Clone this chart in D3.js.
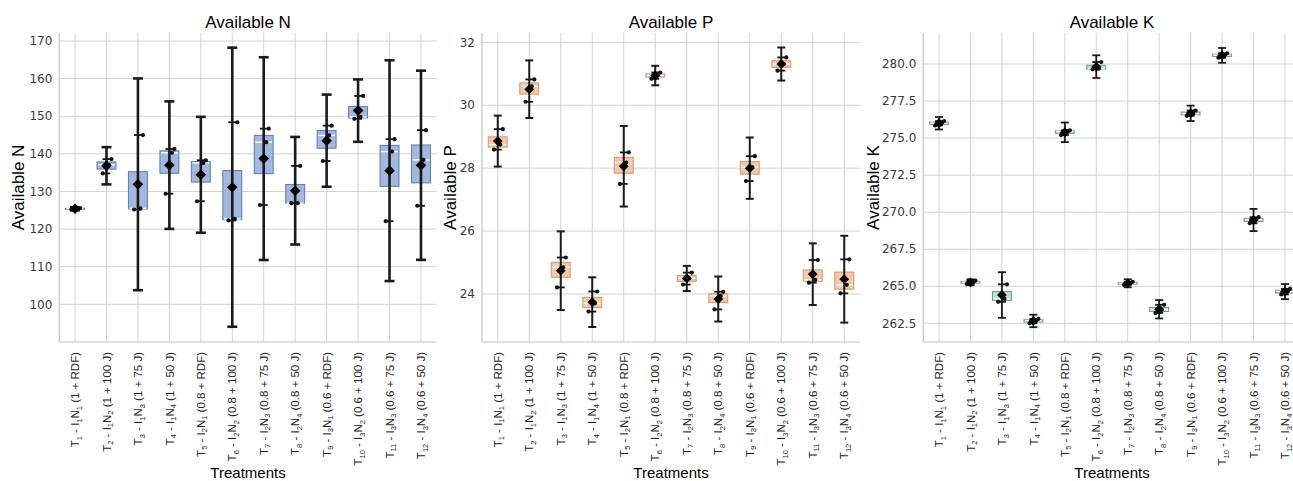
<!DOCTYPE html>
<html>
<head>
<meta charset="utf-8">
<script src="https://cdn.jsdelivr.net/npm/d3@7"></script>
<style>
  body { margin: 0; background: #fff; }
  svg { display: block; }
  text { font-family: "Liberation Sans", Arial, sans-serif; }
</style>
</head>
<body>
<div id="chart"></div>
<script>
// treatment labels, "_n" marks a subscript
const treatments = [
  "T_1 - I_1N_1 (1 + RDF)", "T_2 - I_1N_2 (1 + 100 J)", "T_3 - I_1N_3 (1 + 75 J)", "T_4 - I_1N_4 (1 + 50 J)",
  "T_5 - I_2N_1 (0.8 + RDF)", "T_6 - I_2N_2 (0.8 + 100 J)", "T_7 - I_2N_3 (0.8 + 75 J)", "T_8 - I_2N_4 (0.8 + 50 J)",
  "T_9 - I_3N_1 (0.6 + RDF)", "T_10 - I_3N_2 (0.6 + 100 J)", "T_11 - I_3N_3 (0.6 + 75 J)", "T_12 - I_3N_4 (0.6 + 50 J)"
];

// three replicates per treatment
const nValues = [
  [125.2, 125.4, 125.6], [134.8, 137.1, 138.6], [125.2, 125.5, 145.0], [129.4, 140.3, 141.3],
  [127.4, 137.6, 138.3], [122.3, 122.7, 148.4], [126.4, 143.1, 146.7], [126.9, 126.9, 136.8],
  [138.1, 144.9, 147.5], [149.3, 149.8, 155.4], [122.1, 140.6, 143.9], [126.2, 138.4, 146.3]
];
const nCI = [0.4, 4.95, 28.15, 16.95, 15.4, 37.1, 26.95, 14.3, 12.25, 8.3, 29.35, 25.15];

const pValues = [
  [28.59, 28.75, 29.24], [30.11, 30.60, 30.82], [24.21, 24.85, 25.16], [23.44, 23.70, 24.08],
  [27.50, 28.18, 28.50], [30.84, 30.95, 31.04], [24.30, 24.50, 24.68], [23.51, 23.94, 24.07],
  [27.59, 28.03, 28.38], [31.10, 31.31, 31.52], [24.36, 24.45, 25.08], [24.02, 24.29, 25.10]
];
const pCI = [0.81, 0.915, 1.25, 0.79, 1.28, 0.31, 0.40, 0.715, 0.975, 0.525, 0.98, 1.38];

const kValues = [
  [275.85, 276.00, 276.15], [265.15, 265.28, 265.38], [263.95, 264.15, 265.13], [262.50, 262.68, 262.80],
  [275.20, 275.45, 275.52], [279.64, 279.69, 280.13], [265.10, 265.20, 265.30], [263.20, 263.40, 263.75],
  [276.50, 276.65, 276.86], [280.42, 280.60, 280.72], [269.25, 269.50, 269.66], [264.45, 264.65, 264.82]
];
const kCI = [0.42, 0.2, 1.54, 0.42, 0.66, 0.765, 0.27, 0.62, 0.52, 0.5, 0.75, 0.51];

const nTicks = [100, 110, 120, 130, 140, 150, 160, 170];
const pTicks = [24, 26, 28, 30, 32];
const kTicks = [262.5, 265.0, 267.5, 270.0, 272.5, 275.0, 277.5, 280.0];

const width = 1293, height = 481;
const plotTop = 33, plotBottom = 342;

const svg = d3.select("#chart").append("svg")
  .attr("width", width)
  .attr("height", height);

const panels = [
  { title: "Available N", values: nValues, ci: nCI, ticks: nTicks, fmt: d3.format("d"),
    domain: [89.98, 172.13], left: 59.3, right: 436.7, ylabX: 18,
    fill: "#a3b8dc", edge: "#5f81c0", lw: 2.6, capW: 10, diamond: 56 },
  { title: "Available P", values: pValues, ci: pCI, ticks: pTicks, fmt: d3.format("d"),
    domain: [22.474, 32.296], left: 482, right: 860, ylabX: 450,
    fill: "#f3c9ab", edge: "#d99a72", lw: 2, capW: 8, diamond: 48 },
  { title: "Available K", values: kValues, ci: kCI, ticks: kTicks, fmt: d3.format(".1f"),
    domain: [261.24, 282.09], left: 923.3, right: 1300.7, ylabX: 873,
    fill: "#c4e2cb", edge: "#6aa57a", lw: 1.8, capW: 8, diamond: 48 }
];

panels.forEach(drawPanel);

function drawPanel(p) {
  const x = d3.scalePoint()
    .domain(treatments)
    .range([p.left, p.right])
    .padding(0.5);
  const step = x.step();
  const y = d3.scaleLinear().domain(p.domain).range([plotBottom, plotTop]);
  const g = svg.append("g");

  // grid
  g.selectAll(".hgrid").data(p.ticks).enter().append("line")
    .attr("x1", p.left).attr("x2", p.right)
    .attr("y1", d => y(d)).attr("y2", d => y(d))
    .attr("stroke", "#d3d3d3").attr("stroke-width", 1);
  g.selectAll(".vgrid").data(treatments).enter().append("line")
    .attr("x1", d => x(d)).attr("x2", d => x(d))
    .attr("y1", plotTop).attr("y2", plotBottom)
    .attr("stroke", "#d3d3d3").attr("stroke-width", 1);
  g.append("path")
    .attr("d", `M${p.left},${plotTop}V${plotBottom}H${p.right}`)
    .attr("fill", "none").attr("stroke", "#c4c4c4").attr("stroke-width", 1.2);

  // y tick labels
  g.selectAll(".ytick").data(p.ticks).enter().append("text")
    .attr("x", p.left - 7)
    .attr("y", d => y(d))
    .attr("dy", "0.35em")
    .attr("text-anchor", "end")
    .style("font-family", "'DejaVu Sans', sans-serif")
    .style("font-size", "12px")
    .attr("fill", "#3a3a3a")
    .text(d => p.fmt(d));

  const stats = p.values.map((vals, i) => {
    const s = vals.slice().sort(d3.ascending);
    return {
      key: treatments[i],
      vals: vals,
      min: s[0], max: s[s.length - 1],
      q1: d3.quantile(s, 0.25), med: d3.quantile(s, 0.5), q3: d3.quantile(s, 0.75),
      mean: d3.mean(vals), ci: p.ci[i]
    };
  });

  const boxW = step * 0.6;
  const whiskCap = step * 0.25;

  const item = g.selectAll(".item").data(stats).enter().append("g")
    .attr("transform", d => `translate(${x(d.key)},0)`);

  // boxes
  item.append("rect")
    .attr("x", -boxW / 2).attr("width", boxW)
    .attr("y", d => y(d.q3))
    .attr("height", d => Math.max(1, y(d.q1) - y(d.q3)))
    .attr("fill", p.fill).attr("stroke", p.edge).attr("stroke-width", 1.1);
  item.append("line")
    .attr("x1", -boxW / 2 + 1).attr("x2", boxW / 2 - 1)
    .attr("y1", d => y(d.med)).attr("y2", d => y(d.med))
    .attr("stroke", "#fff").attr("stroke-width", 1.4);

  // box whisker caps at min / max
  item.selectAll(".wcap").data(d => [d.min, d.max]).enter().append("line")
    .attr("x1", -whiskCap / 2).attr("x2", whiskCap / 2)
    .attr("y1", d => y(d)).attr("y2", d => y(d))
    .attr("stroke", "#111").attr("stroke-width", 1.8);

  // error bars of the mean
  item.append("line")
    .attr("x1", 0).attr("x2", 0)
    .attr("y1", d => y(d.mean - d.ci)).attr("y2", d => y(d.mean + d.ci))
    .attr("stroke", "#1a1a1a").attr("stroke-width", p.lw);
  item.selectAll(".ecap").data(d => [d.mean - d.ci, d.mean + d.ci]).enter().append("line")
    .attr("x1", -p.capW / 2).attr("x2", p.capW / 2)
    .attr("y1", d => y(d)).attr("y2", d => y(d))
    .attr("stroke", "#1a1a1a").attr("stroke-width", p.lw);

  // replicate points
  const jitter = [-0.12, 0.08, 0.16];
  item.selectAll(".pt").data(d => d.vals).enter().append("circle")
    .attr("cx", (d, i) => jitter[i] * step)
    .attr("cy", d => y(d))
    .attr("r", 2.1)
    .attr("fill", "#111");

  // mean
  item.append("path")
    .attr("d", d3.symbol(d3.symbolSquare, p.diamond))
    .attr("transform", d => `translate(0,${y(d.mean)}) rotate(45)`)
    .attr("fill", "#000");

  // x tick labels
  g.selectAll(".xlab").data(treatments).enter().append("text")
    .attr("transform", d => `translate(${x(d)},${plotBottom + 10}) rotate(-90)`)
    .attr("dy", "0.36em")
    .attr("text-anchor", "end")
    .style("font-size", "11.5px")
    .attr("fill", "#222")
    .each(function(d) { addLabel(d3.select(this), d); });

  // titles
  const cx = (p.left + p.right) / 2;
  g.append("text")
    .attr("x", cx).attr("y", 28)
    .attr("text-anchor", "middle")
    .style("font-size", "17px")
    .text(p.title);
  g.append("text")
    .attr("x", cx).attr("y", 478)
    .attr("text-anchor", "middle")
    .style("font-size", "15px")
    .text("Treatments");
  g.append("text")
    .attr("transform", `translate(${p.ylabX},${(plotTop + plotBottom) / 2}) rotate(-90)`)
    .attr("dy", "0.35em")
    .attr("text-anchor", "middle")
    .style("font-size", "17px")
    .text(p.title);
}

function addLabel(sel, str) {
  const parts = str.split(/_(\d+)/);
  let down = false;
  parts.forEach((part, i) => {
    if (!part) return;
    const sub = i % 2 === 1;
    const t = sel.append("tspan").text(part);
    if (sub) {
      t.style("font-size", "7.5px");
      if (!down) t.attr("dy", 2.5);
      down = true;
    } else {
      if (down) t.attr("dy", -2.5);
      down = false;
    }
  });
}
</script>
</body>
</html>
